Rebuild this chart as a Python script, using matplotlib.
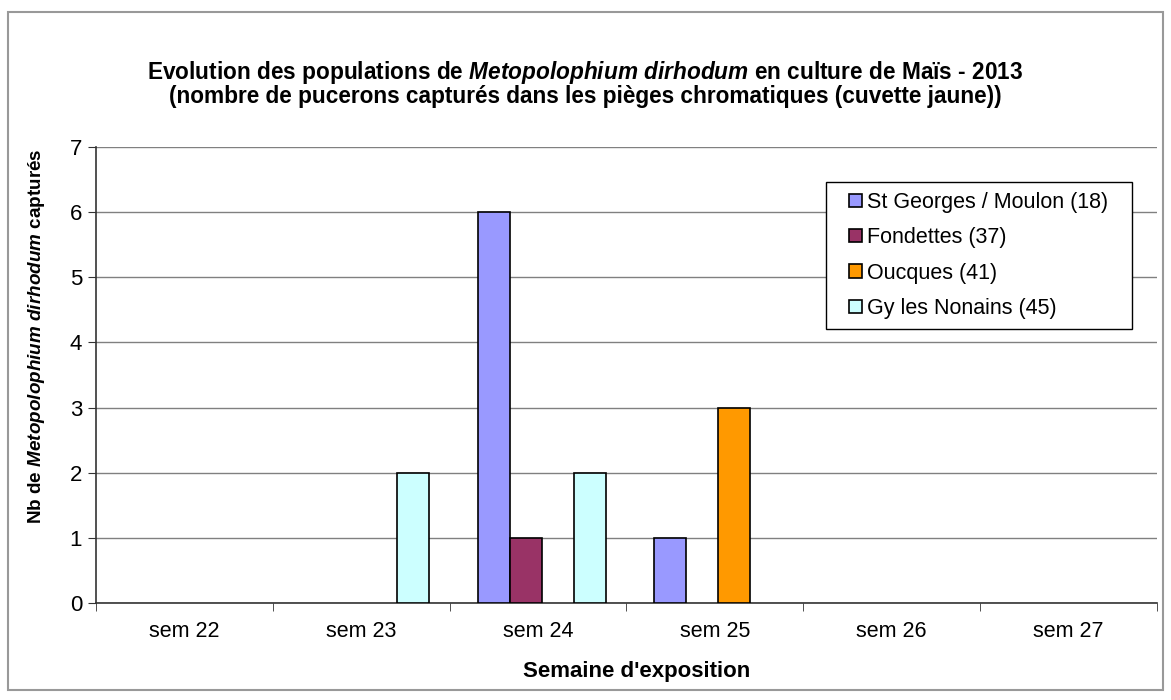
import numpy as np
import matplotlib.pyplot as plt
from matplotlib.patches import Rectangle

plt.rcParams['font.family'] = ['Liberation Sans', 'DejaVu Sans']
plt.rcParams['mathtext.fontset'] = 'custom'
plt.rcParams['mathtext.rm'] = 'Liberation Sans'
plt.rcParams['mathtext.bf'] = 'Liberation Sans:bold'
plt.rcParams['mathtext.it'] = 'Liberation Sans:italic'
plt.rcParams['mathtext.bfit'] = 'Liberation Sans:bold:italic'

semaines = ["sem 22", "sem 23", "sem 24", "sem 25", "sem 26", "sem 27"]
series = ["St Georges / Moulon (18)", "Fondettes (37)", "Oucques (41)", "Gy les Nonains (45)"]
st_georges = [0, 0, 6, 1, 0, 0]
fondettes = [0, 0, 1, 0, 0, 0]
oucques = [0, 0, 0, 3, 0, 0]
gy_nonains = [0, 2, 2, 0, 0, 0]
couleurs = ["#9999FF", "#993366", "#FF9900", "#CCFFFF"]

fig = plt.figure(figsize=(11.71, 7), dpi=100)
ax = fig.add_axes([0.082, 0.1386, 0.906, 0.6514])

x = np.arange(len(semaines))
w = 0.181
valeurs = [st_georges, fondettes, oucques, gy_nonains]
for i, (vals, nom, c) in enumerate(zip(valeurs, series, couleurs)):
    vals = np.array(vals, dtype=float)
    pos = x + (i - 1.5) * w + 0.02
    m = vals > 0
    ax.bar(pos[m], vals[m], width=w, color=c, edgecolor="black", linewidth=1.2, zorder=3)
    # handle vide pour la legende
    ax.bar([0], [0], width=0, color=c, edgecolor="black", linewidth=1.2, label=nom)

ax.set_xlim(-0.5, 5.5)
ax.set_ylim(0, 7)
ax.set_yticks(range(8))
ax.yaxis.grid(True, color="#808080", linewidth=1, zorder=0)
ax.set_xticks(x)
ax.set_xticklabels(semaines)
ax.set_xticks(np.arange(-0.5, 6.0, 1), minor=True)
ax.tick_params(axis="x", which="major", length=0, pad=13, labelsize=15.5)
ax.tick_params(axis="x", which="minor", length=6, direction="out", color="#333333")
ax.tick_params(axis="y", length=6, direction="out", labelsize=16, pad=4, color="#333333")
for s in ["top", "right"]:
    ax.spines[s].set_visible(False)
for s in ["left", "bottom"]:
    ax.spines[s].set_color("#333333")
    ax.spines[s].set_linewidth(1.2)

ax.set_xlabel("Semaine d'exposition", fontsize=16, fontweight="bold")
ax.xaxis.set_label_coords(0.51, -0.128)
ax.set_ylabel(r"Nb de $\mathbfit{Metopolophium\ dirhodum}$ capturés",
              fontsize=13.6, fontweight="bold")
ax.yaxis.set_label_coords(-0.046, 0.585)

fig.text(0.5, 0.896, r"Evolution des populations de $\mathbfit{Metopolophium\ dirhodum}$ en culture de Maïs - 2013",
         ha="center", va="center", fontsize=16.3, fontweight="bold")
fig.text(0.5, 0.862, "(nombre de pucerons capturés dans les pièges chromatiques (cuvette jaune))",
         ha="center", va="center", fontsize=16.3, fontweight="bold")

leg = ax.legend(loc="upper left", bbox_to_anchor=(0.701, 0.923), fontsize=15.5,
                frameon=True, fancybox=False, edgecolor="black", framealpha=1,
                handlelength=0.58, handleheight=0.58, handletextpad=0.25,
                labelspacing=0.67, borderpad=0.45, borderaxespad=0)
cadre = leg.get_frame()
cadre.set_linewidth(1)
# marge horizontale plus large que la verticale, comme dans Excel
cadre.set_boxstyle("square", pad=0.63)
cadre.set_mutation_aspect(0.01)

fig.patches.append(Rectangle((0.007, 0.014), 0.986, 0.969, transform=fig.transFigure,
                             fill=False, edgecolor="#999999", linewidth=1.5))

fig.savefig("out.png", dpi=100)
